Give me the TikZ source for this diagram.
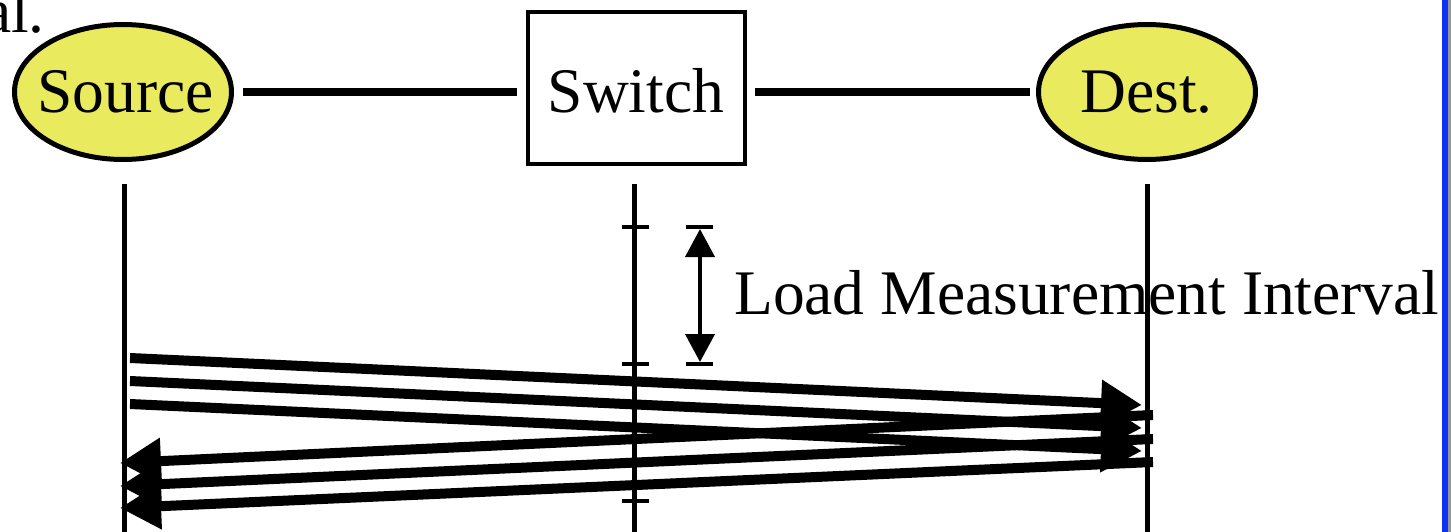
\documentclass[tikz,border=0pt]{standalone}
\usepackage{fontspec}
\setmainfont{Liberation Serif}
\usetikzlibrary{shapes.geometric,arrows.meta}
\definecolor{nodeyellow}{RGB}{234,234,94}
\definecolor{edgeblue}{RGB}{10,50,250}
\definecolor{edgegray}{RGB}{150,150,150}
\tikzset{
  ell/.style={ellipse,draw=black,line width=5pt,fill=nodeyellow,minimum width=217pt,minimum height=135pt,inner sep=0pt},
  boxnode/.style={rectangle,draw=black,line width=4.5pt,fill=white,minimum width=217pt,minimum height=152pt,inner sep=0pt},
  lbl/.style={inner sep=0pt,anchor=base,font=\fontsize{63.5}{70}\selectfont},
  link/.style={line width=8pt},
  life/.style={line width=5pt},
  tick/.style={line width=4pt},
  msg/.style={line width=10pt,-{Triangle[length=41pt,width=44pt]}},
  interval/.style={line width=4pt,{Triangle[length=28pt,width=29pt]}-{Triangle[length=28pt,width=29pt]}}
}
\begin{document}
\begin{tikzpicture}[x=1pt,y=-1pt]
\useasboundingbox (0,0) rectangle (1451,532);
\fill[white] (0,0) rectangle (1451,532);
% partial text at top left
\node[lbl,anchor=base east] (alT) at (45,33) {al.};
% nodes
\node[ell] (src) at (123,92) {};
\node[boxnode] (sw) at (636.5,88) {};
\node[ell] (dst) at (1147,92) {};
\node[lbl] (srcT) at (125.5,113) {Source};
\node[lbl] (swT) at (636,113) {Switch};
\node[lbl] (dstT) at (1146.5,113) {Dest.};
% links
\coordinate (l1a) at (243,92); \coordinate (l1b) at (517,92);
\coordinate (l2a) at (755,92); \coordinate (l2b) at (1030,92);
\draw[link] (l1a) -- (l1b);
\draw[link] (l2a) -- (l2b);
% lifelines
\coordinate (srcTop) at (124,184); \coordinate (srcBot) at (124,532);
\coordinate (swTop) at (634,184); \coordinate (swBot) at (634,532);
\coordinate (dstTop) at (1147,184); \coordinate (dstBot) at (1147,532);
\draw[life] (srcTop) -- (srcBot);
\draw[life] (swTop) -- (swBot);
\draw[life] (dstTop) -- (dstBot);
% ticks on switch lifeline
\coordinate (t1a) at (622,227); \coordinate (t1b) at (649,227);
\coordinate (t2a) at (622,364); \coordinate (t2b) at (649,364);
\coordinate (t3a) at (622,501); \coordinate (t3b) at (649,501);
\draw[tick] (t1a) -- (t1b);
\draw[tick] (t2a) -- (t2b);
\draw[tick] (t3a) -- (t3b);
% interval marker
\coordinate (i1a) at (686,227); \coordinate (i1b) at (713,227);
\coordinate (i2a) at (686,364); \coordinate (i2b) at (713,364);
\draw[tick] (i1a) -- (i1b);
\draw[tick] (i2a) -- (i2b);
\coordinate (iTop) at (700,229); \coordinate (iBot) at (700,362);
\draw[interval] (iTop) -- (iBot);
\node[lbl,anchor=base west] (intT) at (734,314) {Load Measurement Interval};
% messages source -> dest
\coordinate (s1) at (130,358); \coordinate (d1) at (1142,405);
\coordinate (s2) at (130,381); \coordinate (d2) at (1142,428);
\coordinate (s3) at (130,404); \coordinate (d3) at (1142,451);
\draw[msg] (s1) -- (d1);
\draw[msg] (s2) -- (d2);
\draw[msg] (s3) -- (d3);
% messages dest -> source
\coordinate (r1) at (1153,415); \coordinate (q1) at (120,463);
\coordinate (r2) at (1153,439); \coordinate (q2) at (120,486);
\coordinate (r3) at (1153,462); \coordinate (q3) at (120,508);
\draw[msg] (r1) -- (q1);
\draw[msg] (r2) -- (q2);
\draw[msg] (r3) -- (q3);
% right edge strips
\fill[edgeblue] (1442,0) rectangle (1448,532);
\fill[edgegray] (1448,0) rectangle (1451,532);
\end{tikzpicture}
\end{document}
